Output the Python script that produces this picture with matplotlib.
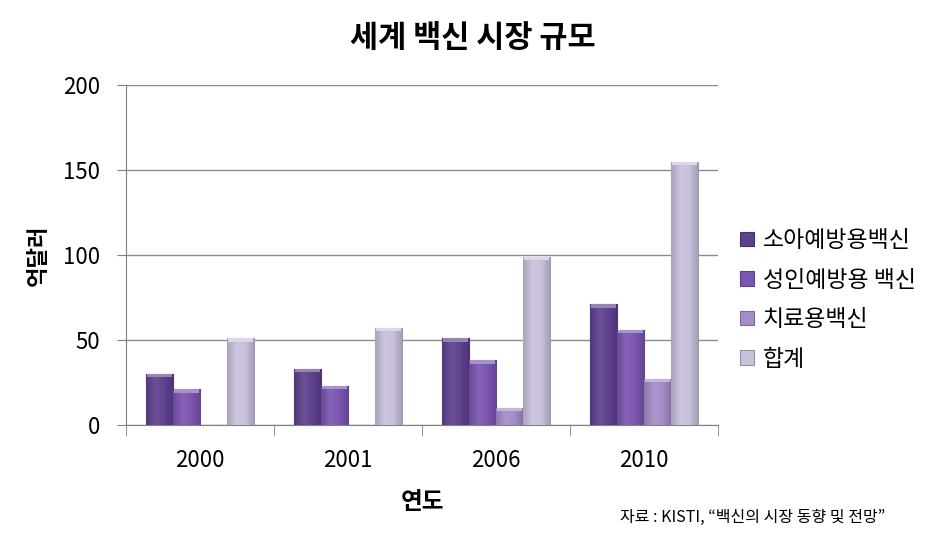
import numpy as np
import matplotlib
matplotlib.use("Agg")
from matplotlib import pyplot as plt
from matplotlib.colors import LinearSegmentedColormap, to_rgb

plt.rcParams['font.family'] = ['Noto Sans CJK KR', 'DejaVu Sans']

years = ['2000', '2001', '2006', '2010']
series = ['소아예방용백신', '성인예방용 백신', '치료용백신', '합계']
child = [30, 33, 51, 71]
adult = [21, 23, 38, 56]
therapy = [0, 0, 10, 27]
total = [51, 57, 99, 155]
colors = ['#5f418f', '#7b56b1', '#a58dc9', '#c9c0dc']


def shade(c, f):
    r, g, b = to_rgb(c)
    if f < 1:
        return (r * f, g * f, b * f)
    return (r + (1 - r) * (f - 1), g + (1 - g) * (f - 1), b + (1 - b) * (f - 1))


fig = plt.figure(figsize=(9.52, 5.37), dpi=100)
ax = fig.add_axes([0.1324, 0.2086, 0.6218, 0.6331])

x = np.arange(len(years))
w = 0.183
grad = np.linspace(0, 1, 64).reshape(1, -1)
for i, (vals, col) in enumerate(zip([child, adult, therapy, total], colors)):
    pos = x - 1.5 * w + i * w
    bars = ax.bar(pos, vals, w, color=col, edgecolor=shade(col, 0.75), linewidth=0.8,
                  label=series[i], zorder=3)
    cmap = LinearSegmentedColormap.from_list(
        'g%d' % i, [shade(col, 0.85), shade(col, 1.08), col, shade(col, 0.8)])
    for b in bars:
        h = b.get_height()
        if h <= 0:
            continue
        bx = b.get_x()
        im = ax.imshow(grad, cmap=cmap, aspect='auto', extent=[bx, bx + w, 0, h],
                       zorder=3.5, interpolation='bicubic')
        im.set_clip_path(b)
        # bevel on top
        cap = min(2.0, h * 0.3)
        ax.bar(bx + w / 2, cap, w * 0.9, bottom=h - cap, color=shade(col, 1.35),
               linewidth=0, zorder=4)

ax.set_xlim(-0.5, len(years) - 0.5)
ax.set_ylim(0, 200)
ax.set_yticks([0, 50, 100, 150, 200])
ax.set_xticks(x)
ax.set_xticklabels(years)
ax.set_xticks(np.arange(len(years) + 1) - 0.5, minor=True)
ax.tick_params(axis='x', which='major', length=0, labelsize=16, pad=17)
ax.tick_params(axis='x', which='minor', length=8, color='#808080', direction='out')
ax.tick_params(axis='y', length=6.5, color='#808080', labelsize=16, pad=12)
ax.grid(axis='y', color='#8c8c8c', linewidth=1, zorder=0)
ax.set_axisbelow(True)
for s in ['top', 'right']:
    ax.spines[s].set_visible(False)
for s in ['left', 'bottom']:
    ax.spines[s].set_color('#808080')

ax.set_xlabel('연도', fontsize=17, fontweight='bold', va='center')
ax.xaxis.set_label_coords(0.5, -0.226)
ax.set_ylabel('억달러', fontsize=16, fontweight='bold', va='center')
ax.yaxis.set_label_coords(-0.149, 0.5)

fig.text(0.497, 0.929, '세계 백신 시장 규모', fontsize=22, fontweight='bold',
         ha='center', va='center')

ax.legend(loc='center left', bbox_to_anchor=(1.037, 0.368), frameon=False,
          fontsize=16.5, handlelength=0.6, handleheight=0.6, handletextpad=0.4,
          labelspacing=0.72, borderpad=0, borderaxespad=0)

fig.text(0.651, 0.037, '자료 : KISTI, “백신의 시장 동향 및 전망”', fontsize=11.5,
         ha='left', va='center')

fig.savefig('out.png', dpi=100)
